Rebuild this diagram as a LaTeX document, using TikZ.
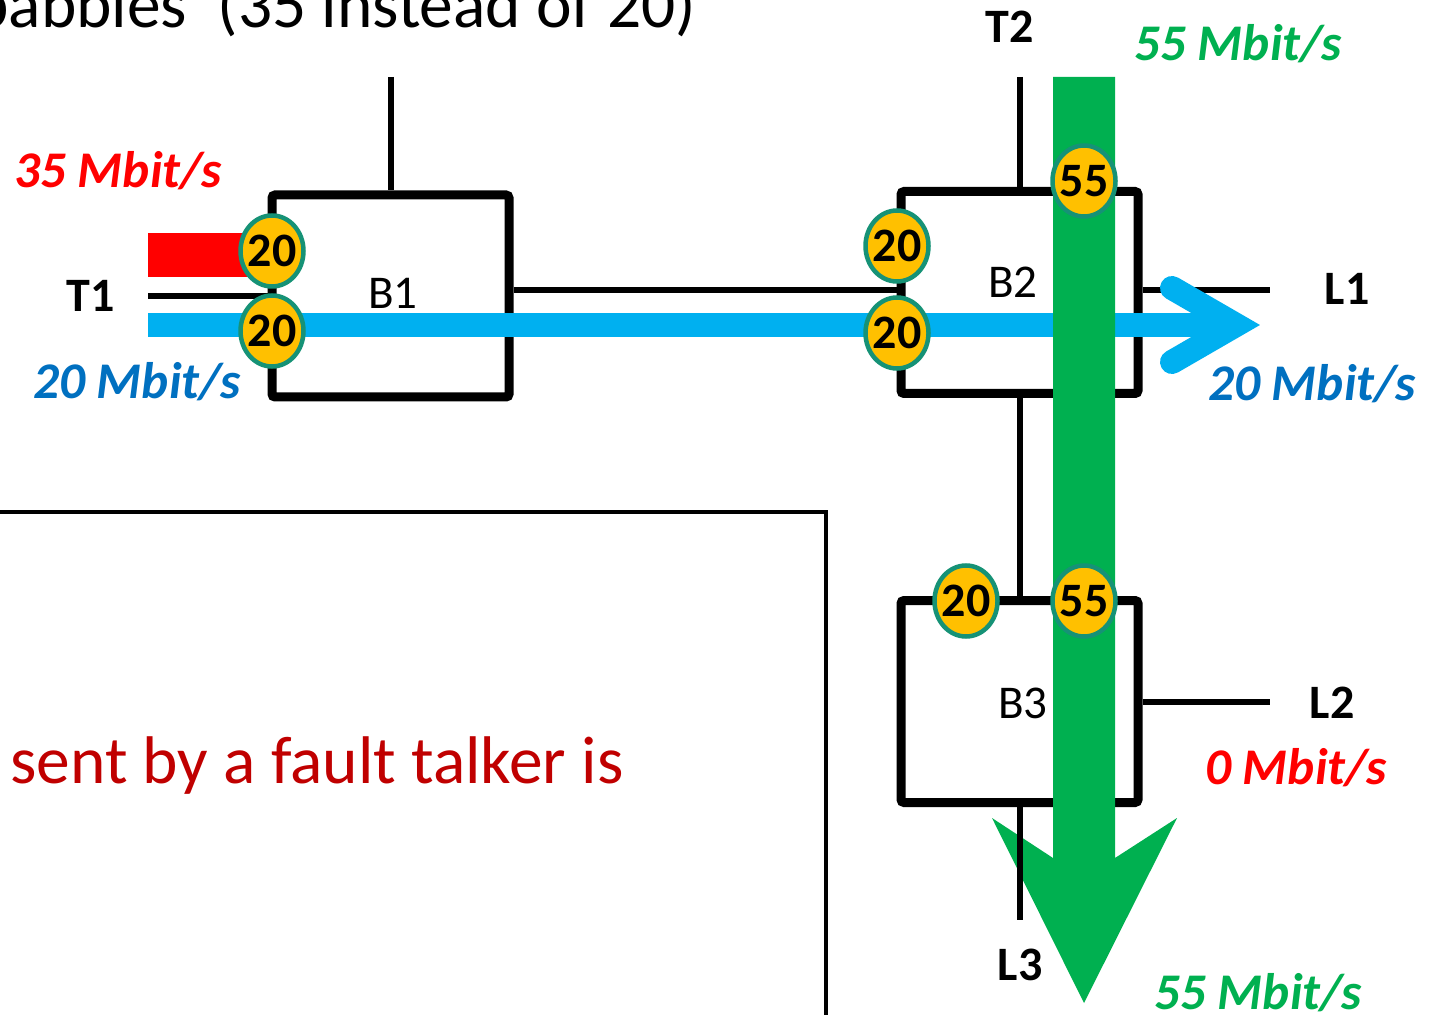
\documentclass[tikz,border=0pt]{standalone}
\usepackage{fontspec}
\setmainfont{Carlito}
\usetikzlibrary{arrows.meta,positioning,shapes.geometric,calc}
\definecolor{flowred}   {RGB}{255,  0,  0}
\definecolor{flowblue}  {RGB}{  0,176,240}
\definecolor{txtblue}   {RGB}{  0,112,192}
\definecolor{flowgreen} {RGB}{  0,176, 80}
\definecolor{badgefill} {RGB}{255,192,  0}
\definecolor{badgeedge} {RGB}{ 22,146,118}
\definecolor{slidered}  {RGB}{192,  0,  0}
\tikzset{
  brg/.style={draw=black,line width=4.5pt,rounded corners=1.5pt,
              minimum width=118.5pt,minimum height=101pt,inner sep=0pt},
  brglbl/.style={font=\fontsize{23.5}{27}\selectfont,inner sep=0pt},
  wire/.style={draw=black,line width=3pt},
  meter/.style={ellipse,draw=badgeedge,fill=badgefill,line width=2.25pt,
                minimum width=31.5pt,minimum height=35.5pt,
                inner xsep=-1.5pt,inner ysep=0pt,
                font=\fontsize{24}{26}\selectfont\bfseries},
  port/.style={font=\fontsize{24}{28}\selectfont\bfseries,
               inner sep=0pt,anchor=base},
  rate/.style={font=\fontsize{25.7}{30}\selectfont\bfseries\itshape,
               inner sep=0pt,anchor=base},
  slide/.style={font=\fontsize{33.7}{40}\selectfont,inner sep=0pt},
}
\begin{document}
\begin{tikzpicture}[x=0.5pt,y=-0.5pt]
  \clip (0,0) rectangle (1434,1015);
  \fill[white] (0,0) rectangle (1434,1015);

  % slide text and frame
  \node[slide,anchor=base east] (title) at (697,28) {babbies\ \ (35 instead of 20)};
  \node[slide,anchor=base west,text=slidered] (note) at (10,783) {sent by a fault talker is};
  \draw[line width=1.75pt] (0,512) -- (826,512) -- (826,1030);

  % bridges
  \node[brg] (B1) at (390.5,296) {};
  \node[brg] (B2) at (1019.5,292.5) {};
  \node[brg] (B3) at (1019.5,701.5) {};
  \node[brglbl] (B1txt) at (393,293) {B1};
  \node[brglbl] (B2txt) at (1013,282) {B2};
  \node[brglbl] (B3txt) at (1023,703) {B3};

  % links
  \coordinate (T1end) at (148,296);
  \coordinate (B1up)  at (390.5,77);
  \coordinate (T2end) at (1019.5,77);
  \coordinate (L1end) at (1270,290);
  \coordinate (L2end) at (1270,701.5);
  \coordinate (L3end) at (1019.5,920);
  \draw[wire] (T1end) -- (B1.west |- T1end);
  \draw[wire] (B1up) -- (B1.north);
  \draw[wire] ([yshift=3pt]B1.east) -- ([yshift=1.25pt]B2.west);
  \draw[wire] (T2end) -- (B2.north);
  \draw[wire] ([yshift=1.25pt]B2.east) -- (L1end);
  \draw[wire] (B2.south) -- (B3.north);
  \draw[wire] (B3.east) -- (L2end);

  % streams
  \fill[flowred] (148,233) rectangle (258,277);
  \coordinate (bluestart) at (148,325);
  \coordinate (bluetip)   at (1236,325);
  \draw[flowblue,line width=12pt] (bluestart) -- (bluetip);
  \draw[flowblue,line width=12pt,line cap=round,miter limit=4]
    (1172,288) -- (bluetip) -- (1172,362);
  \fill[flowgreen] (1053,77) -- (1053,858) -- (992,818) -- (1084,1003)
    -- (1177,818) -- (1115,858) -- (1115,77) -- cycle;
  \draw[wire] (B3.south) -- (L3end);

  % meters
  \node[meter] (m1) at (272,251) {20};
  \node[meter] (m2) at (272,331) {20};
  \node[meter] (m3) at (897,246) {20};
  \node[meter] (m4) at (897,333) {20};
  \node[meter] (m5) at (1084,181) {55};
  \node[meter] (m6) at (966,601) {20};
  \node[meter] (m7) at (1084,601) {55};

  % ports
  \node[port] (T1) at (91,312) {T1};
  \node[port] (T2) at (1010,43) {T2};
  \node[port] (L1) at (1347,305) {L1};
  \node[port] (L2) at (1332,718) {L2};
  \node[port] (L3) at (1020,980) {L3};

  % rates
  \node[rate,text=flowred]   (r1) at (118,188)  {35 Mbit/s};
  \node[rate,text=txtblue]   (r2) at (137,399)  {20 Mbit/s};
  \node[rate,text=flowgreen] (r3) at (1238,61)  {55 Mbit/s};
  \node[rate,text=txtblue]   (r4) at (1312,401) {20 Mbit/s};
  \node[rate,text=flowred]   (r5) at (1296,784) {0 Mbit/s};
  \node[rate,text=flowgreen] (r6) at (1258,1009) {55 Mbit/s};
\end{tikzpicture}
\end{document}
